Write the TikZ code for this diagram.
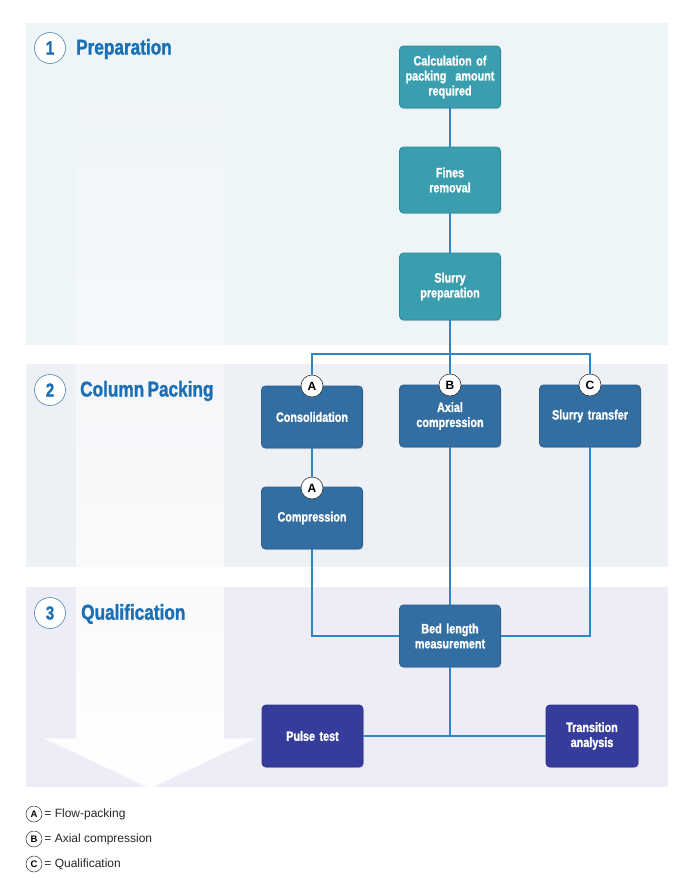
\documentclass[tikz,border=0pt]{standalone}
\usepackage{fontspec}
\setmainfont{Liberation Sans}
\newfontfamily\condfont[FakeStretch=0.8, WordSpace=0.7, BoldFeatures={FakeBold=1.2}]{Liberation Sans}
\usetikzlibrary{fadings,shadows}
\definecolor{panelone}{HTML}{EEF5F8}
\definecolor{paneltwo}{HTML}{EDF0F5}
\definecolor{panelthree}{HTML}{ECEDF6}
\definecolor{tealbox}{HTML}{3A9EAE}
\definecolor{tealedge}{HTML}{2B8A9C}
\definecolor{bluebox}{HTML}{336EA3}
\definecolor{blueedge}{HTML}{2A5F90}
\definecolor{navybox}{HTML}{363C9C}
\definecolor{navyedge}{HTML}{2C3188}
\definecolor{linkblue}{HTML}{2E86C8}
\definecolor{headblue}{HTML}{1A6FB5}

\begin{document}
\begin{tikzpicture}[x=1pt,y=-1pt,
  stepbox/.style={rounded corners=4pt, minimum width=101pt, minimum height=62pt,
    text width=97pt, align=center, inner sep=0pt, text=white, line width=0.8pt,
    font=\condfont\bfseries\fontsize{13.5}{15}\selectfont,
    drop shadow={shadow xshift=1pt, shadow yshift=-1.2pt, opacity=0.25}},
  prepbox/.style={stepbox, fill=tealbox, draw=tealedge},
  packbox/.style={stepbox, fill=bluebox, draw=blueedge},
  qualbox/.style={stepbox, fill=navybox, draw=navyedge},
  methodmark/.style={circle, draw=black!80, fill=white, line width=0.6pt, minimum size=22pt,
    inner sep=0pt, font=\bfseries\fontsize{12}{12}\selectfont},
  legmark/.style={circle, draw=black!80, fill=white, line width=0.5pt, minimum size=16pt,
    inner sep=0pt, font=\bfseries\fontsize{9.5}{9.5}\selectfont},
  secnum/.style={circle, draw=headblue!70!gray, fill=white, line width=0.5pt, minimum size=31pt,
    inner sep=0pt, text=headblue, font=\condfont\bfseries\fontsize{19}{19}\selectfont},
  sectitle/.style={anchor=west, inner sep=0pt, text=headblue, font=\condfont\bfseries\fontsize{21.5}{21.5}\selectfont},
  link/.style={draw=linkblue, line width=1.3pt},
  legtext/.style={anchor=west, inner sep=2pt, font=\fontsize{12}{14}\selectfont, text=black!85}]
\useasboundingbox (0,0) rectangle (700,878);
% Section panels
\fill[panelone] (26,23) rectangle (668,345);
\fill[paneltwo] (26,364) rectangle (668,567);
\fill[panelthree] (26,587) rectangle (668,787);
% Big faded arrow
\fill[white, path fading=north] (76,62) -- (224,62) -- (224,738) -- (256,738)
  -- (150,788) -- (44,738) -- (76,738) -- cycle;
% Section headers
\node[secnum] (num1) at (50,48) {1};
\node[sectitle] (title1) at (76,49) {Preparation};
\node[secnum] (num2) at (50,390) {2};
\node[sectitle] (title2) at (80,391) {Column Packing};
\node[secnum] (num3) at (50,613) {3};
\node[sectitle] (title3) at (81,614) {Qualification};
% Preparation steps
\node[prepbox] (calc) at (450,77) {Calculation of\\packing\ \ amount\\required};
\node[prepbox, minimum height=66pt] (fines) at (450,180) {Fines\\removal};
\node[prepbox, minimum height=67pt] (prep) at (450,286.5) {Slurry\\preparation};
% Column packing steps
\node[packbox] (cons) at (312,417) {Consolidation};
\node[packbox] (axial) at (450,416) {Axial\\compression};
\node[packbox] (transfer) at (590,416) {Slurry transfer};
\node[packbox] (comp) at (312,518) {Compression};
% Qualification steps
\node[packbox] (bed) at (450,636) {Bed length\\measurement};
\node[qualbox] (pulse) at (312.5,736) {Pulse test};
\node[qualbox, minimum width=92pt, text width=88pt] (trans) at (592,736) {Transition\\analysis};
% Method markers
\node[methodmark] (markA) at (312,386) {A};
\node[methodmark] (markB) at (450,385) {B};
\node[methodmark] (markC) at (590,385) {C};
\node[methodmark] (markAA) at (312,488) {A};
% Connectors
\coordinate (split) at (450,354);
\coordinate (join) at (450,736);
\draw[link] (calc) -- (fines);
\draw[link] (fines) -- (prep);
\draw[link] (prep.south) -- (split);
\draw[link] (markA.north) |- (split) -| (markC.north);
\draw[link] (split) -- (markB.north);
\draw[link] (cons.south) -- (markAA.north);
\draw[link] (comp.south) |- (bed.west);
\draw[link] (axial.south) -- (bed.north);
\draw[link] (transfer.south) |- (bed.east);
\draw[link] (bed.south) -- (join);
\draw[link] (pulse.east) -- (trans.west);
% Legend
\node[legmark] (legA) at (34,814) {A};
\node[legtext] (legAtext) at (legA.east) {= Flow-packing};
\node[legmark] (legB) at (34,839) {B};
\node[legtext] (legBtext) at (legB.east) {= Axial compression};
\node[legmark] (legC) at (34,864) {C};
\node[legtext] (legCtext) at (legC.east) {= Qualification};
\end{tikzpicture}
\end{document}
